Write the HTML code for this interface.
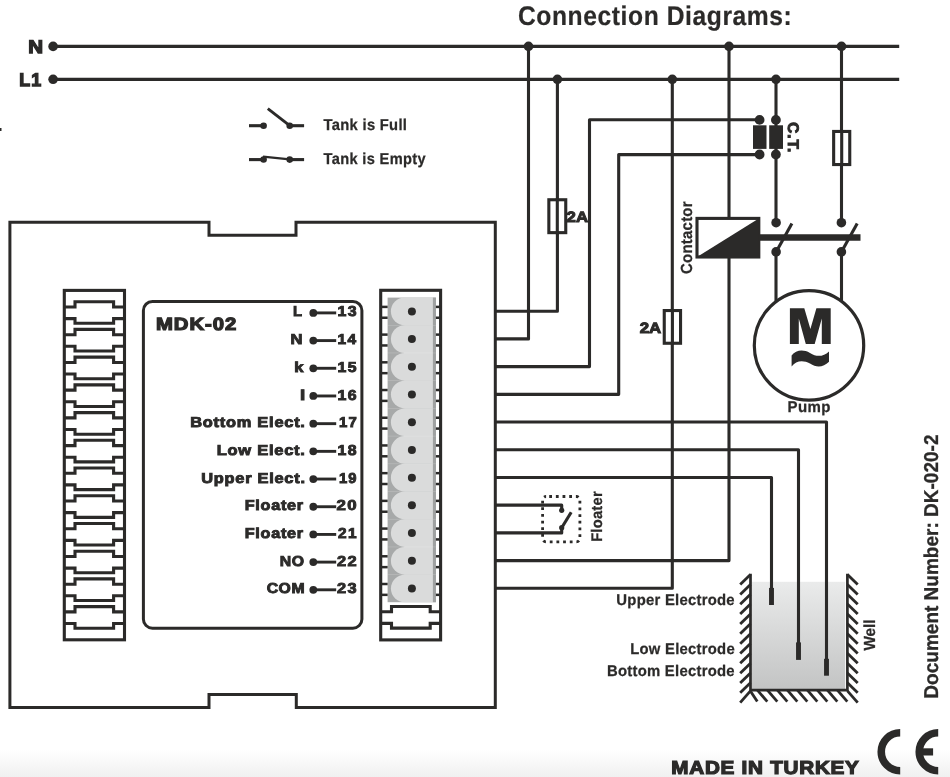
<!DOCTYPE html>
<html><head><meta charset="utf-8"><title>Connection Diagrams</title>
<style>
html,body{margin:0;padding:0;background:#fff;}
body{width:950px;height:777px;overflow:hidden;font-family:"Liberation Sans",sans-serif;}
svg{display:block;will-change:transform;}
svg text{font-family:"Liberation Sans",sans-serif;fill:#2b2a29;text-rendering:geometricPrecision;}
</style></head><body>
<svg width="950" height="777" viewBox="0 0 950 777">
<defs><linearGradient id="bg" x1="0" y1="0" x2="0" y2="1"><stop offset="0" stop-color="#ffffff"/><stop offset="1" stop-color="#f0f0f0"/></linearGradient></defs>
<rect x="0" y="0" width="950" height="777" fill="#fff"/>
<rect x="0" y="750" width="950" height="27" fill="url(#bg)"/>
<defs><linearGradient id="wg" x1="0" y1="0" x2="0" y2="1"><stop offset="0" stop-color="#eaebeb"/><stop offset="1" stop-color="#c3c4c4"/></linearGradient></defs>
<rect x="751.8" y="581.8" width="93.4" height="107.2" fill="url(#wg)"/>
<line x1="53" y1="46.4" x2="899.2" y2="46.4" stroke="#2b2a29" stroke-width="3.3" stroke-linecap="butt"/>
<line x1="53" y1="79.3" x2="899.2" y2="79.3" stroke="#2b2a29" stroke-width="3.3" stroke-linecap="butt"/>
<circle cx="53.1" cy="46.4" r="4.8" fill="#2b2a29"/>
<circle cx="53.1" cy="79.3" r="4.8" fill="#2b2a29"/>
<circle cx="528.5" cy="46.4" r="4.8" fill="#2b2a29"/>
<circle cx="729" cy="46.4" r="4.8" fill="#2b2a29"/>
<circle cx="841.5" cy="46.4" r="4.8" fill="#2b2a29"/>
<circle cx="557.4" cy="79.3" r="4.8" fill="#2b2a29"/>
<circle cx="672.3" cy="79.3" r="4.8" fill="#2b2a29"/>
<circle cx="776" cy="79.3" r="4.8" fill="#2b2a29"/>
<polyline points="495.3,311.2 557.4,311.2 557.4,79.3" fill="none" stroke="#2b2a29" stroke-width="3.1" stroke-linejoin="round" stroke-linecap="butt"/>
<polyline points="495.3,338.90999999999997 528.5,338.90999999999997 528.5,46.4" fill="none" stroke="#2b2a29" stroke-width="3.1" stroke-linejoin="round" stroke-linecap="butt"/>
<polyline points="495.3,366.62 589.5,366.62 589.5,119.8 759.6,119.8" fill="none" stroke="#2b2a29" stroke-width="3.1" stroke-linejoin="round" stroke-linecap="butt"/>
<polyline points="495.3,394.33 618.7,394.33 618.7,154.6 759.6,154.6" fill="none" stroke="#2b2a29" stroke-width="3.1" stroke-linejoin="round" stroke-linecap="butt"/>
<polyline points="495.3,422.03999999999996 826.5,422.03999999999996 826.5,660" fill="none" stroke="#2b2a29" stroke-width="3.1" stroke-linejoin="round" stroke-linecap="butt"/>
<polyline points="495.3,449.75 798.5,449.75 798.5,643" fill="none" stroke="#2b2a29" stroke-width="3.1" stroke-linejoin="round" stroke-linecap="butt"/>
<polyline points="495.3,477.46 771.5,477.46 771.5,589" fill="none" stroke="#2b2a29" stroke-width="3.1" stroke-linejoin="round" stroke-linecap="butt"/>
<polyline points="495.3,505.16999999999996 561.7,505.16999999999996 561.7,510.3" fill="none" stroke="#2b2a29" stroke-width="3.1" stroke-linejoin="round" stroke-linecap="butt"/>
<polyline points="495.3,532.88 561.7,532.88 561.7,527.7" fill="none" stroke="#2b2a29" stroke-width="3.1" stroke-linejoin="round" stroke-linecap="butt"/>
<polyline points="495.3,560.59 729,560.59 729,258" fill="none" stroke="#2b2a29" stroke-width="3.1" stroke-linejoin="round" stroke-linecap="butt"/>
<polyline points="495.3,588.3 672.3,588.3 672.3,79.3" fill="none" stroke="#2b2a29" stroke-width="3.1" stroke-linejoin="round" stroke-linecap="butt"/>
<line x1="729" y1="46.4" x2="729" y2="218" stroke="#2b2a29" stroke-width="3.1" stroke-linecap="butt"/>
<line x1="776" y1="79.3" x2="776" y2="222.7" stroke="#2b2a29" stroke-width="3.1" stroke-linecap="butt"/>
<line x1="841.5" y1="46.4" x2="841.5" y2="222.7" stroke="#2b2a29" stroke-width="3.1" stroke-linecap="butt"/>
<line x1="776" y1="251.9" x2="776" y2="304" stroke="#2b2a29" stroke-width="3.1" stroke-linecap="butt"/>
<line x1="841.5" y1="251.9" x2="841.5" y2="304" stroke="#2b2a29" stroke-width="3.1" stroke-linecap="butt"/>
<rect x="548.8499999999999" y="199.75" width="16.9" height="32.9" rx="0" fill="#fff" stroke="#2b2a29" stroke-width="3.1"/>
<line x1="557.3" y1="198.2" x2="557.3" y2="234.2" stroke="#2b2a29" stroke-width="3.1" stroke-linecap="butt"/>
<rect x="664.2499999999999" y="310.55" width="16.299999999999997" height="32.70000000000001" rx="0" fill="#fff" stroke="#2b2a29" stroke-width="3.1"/>
<line x1="672.4" y1="309.0" x2="672.4" y2="344.8" stroke="#2b2a29" stroke-width="3.1" stroke-linecap="butt"/>
<rect x="833.65" y="131.45000000000002" width="16.099999999999998" height="33.09999999999999" rx="0" fill="#fff" stroke="#2b2a29" stroke-width="3.1"/>
<line x1="841.7" y1="129.9" x2="841.7" y2="166.1" stroke="#2b2a29" stroke-width="3.1" stroke-linecap="butt"/>
<rect x="753" y="125.3" width="13.5" height="23.6" fill="#2b2a29"/>
<rect x="769.2" y="125.3" width="13.8" height="23.6" fill="#2b2a29"/>
<circle cx="759.6" cy="119.9" r="4.9" fill="#2b2a29"/>
<circle cx="759.6" cy="154.5" r="4.9" fill="#2b2a29"/>
<circle cx="775.9" cy="119.9" r="4.9" fill="#2b2a29"/>
<circle cx="775.9" cy="154.5" r="4.9" fill="#2b2a29"/>
<rect x="697.0" y="218.4" width="61.8" height="38.6" rx="0" fill="#fff" stroke="#2b2a29" stroke-width="3.1"/>
<polygon points="697.0,257.0 758.8,218.4 758.8,257.0" fill="#2b2a29"/>
<line x1="760" y1="237.5" x2="860.5" y2="237.5" stroke="#2b2a29" stroke-width="6.6" stroke-linecap="butt"/>
<circle cx="776.1" cy="222.7" r="4.8" fill="#2b2a29"/>
<circle cx="776.1" cy="251.9" r="4.8" fill="#2b2a29"/>
<line x1="776.1" y1="251.9" x2="791.9" y2="223.6" stroke="#2b2a29" stroke-width="3.1" stroke-linecap="butt"/>
<circle cx="841.4" cy="222.7" r="4.8" fill="#2b2a29"/>
<circle cx="841.4" cy="251.9" r="4.8" fill="#2b2a29"/>
<line x1="841.4" y1="251.9" x2="857.1999999999999" y2="223.6" stroke="#2b2a29" stroke-width="3.1" stroke-linecap="butt"/>
<circle cx="809" cy="345.4" r="54.7" fill="#fff" stroke="#2b2a29" stroke-width="3.2"/>
<path d="M789.9,344.0 L789.9,308.2 L804.3,308.2 L810.4,328.9 L816.4,308.2 L830.7,308.2 L830.7,344.0 L821.8,344.0 L821.8,318.6 L814.7,344.0 L805.8,344.0 L798.8,318.6 L798.8,344.0 Z" fill="#2b2a29"/>
<path d="M791.6,355.5 C796,350 803,349 810,353 C817,357.5 823.5,356.5 829.0,351.4 L829.0,361.7 C823.5,367.1 817,368.1 810,363.6 C803,359.6 796,360.6 791.6,366.6 Z" fill="#2b2a29"/>
<rect x="542.6" y="496.5" width="37.3" height="45.3" rx="3.5" fill="none" stroke="#2b2a29" stroke-width="2.8" stroke-dasharray="2.8 3.87" stroke-dashoffset="-3.1"/>
<circle cx="561.7" cy="510.3" r="2.6" fill="#2b2a29"/>
<circle cx="561.7" cy="527.7" r="2.6" fill="#2b2a29"/>
<line x1="561.7" y1="527.7" x2="571.2" y2="512.2" stroke="#2b2a29" stroke-width="3.1" stroke-linecap="butt"/>
<polyline points="750.5,573.8 750.5,690.2 847.4,690.2 847.4,573.8" fill="none" stroke="#2b2a29" stroke-width="2.7" stroke-linejoin="miter" stroke-linecap="butt"/>
<line x1="750.5" y1="574.6" x2="740.2" y2="584.6" stroke="#2b2a29" stroke-width="2.8" stroke-linecap="butt"/>
<line x1="847.4" y1="574.6" x2="857.6999999999999" y2="584.6" stroke="#2b2a29" stroke-width="2.8" stroke-linecap="butt"/>
<line x1="750.5" y1="584.44" x2="740.2" y2="594.44" stroke="#2b2a29" stroke-width="2.8" stroke-linecap="butt"/>
<line x1="847.4" y1="584.44" x2="857.6999999999999" y2="594.44" stroke="#2b2a29" stroke-width="2.8" stroke-linecap="butt"/>
<line x1="750.5" y1="594.28" x2="740.2" y2="604.28" stroke="#2b2a29" stroke-width="2.8" stroke-linecap="butt"/>
<line x1="847.4" y1="594.28" x2="857.6999999999999" y2="604.28" stroke="#2b2a29" stroke-width="2.8" stroke-linecap="butt"/>
<line x1="750.5" y1="604.12" x2="740.2" y2="614.12" stroke="#2b2a29" stroke-width="2.8" stroke-linecap="butt"/>
<line x1="847.4" y1="604.12" x2="857.6999999999999" y2="614.12" stroke="#2b2a29" stroke-width="2.8" stroke-linecap="butt"/>
<line x1="750.5" y1="613.96" x2="740.2" y2="623.96" stroke="#2b2a29" stroke-width="2.8" stroke-linecap="butt"/>
<line x1="847.4" y1="613.96" x2="857.6999999999999" y2="623.96" stroke="#2b2a29" stroke-width="2.8" stroke-linecap="butt"/>
<line x1="750.5" y1="623.8000000000001" x2="740.2" y2="633.8000000000001" stroke="#2b2a29" stroke-width="2.8" stroke-linecap="butt"/>
<line x1="847.4" y1="623.8000000000001" x2="857.6999999999999" y2="633.8000000000001" stroke="#2b2a29" stroke-width="2.8" stroke-linecap="butt"/>
<line x1="750.5" y1="633.64" x2="740.2" y2="643.64" stroke="#2b2a29" stroke-width="2.8" stroke-linecap="butt"/>
<line x1="847.4" y1="633.64" x2="857.6999999999999" y2="643.64" stroke="#2b2a29" stroke-width="2.8" stroke-linecap="butt"/>
<line x1="750.5" y1="643.48" x2="740.2" y2="653.48" stroke="#2b2a29" stroke-width="2.8" stroke-linecap="butt"/>
<line x1="847.4" y1="643.48" x2="857.6999999999999" y2="653.48" stroke="#2b2a29" stroke-width="2.8" stroke-linecap="butt"/>
<line x1="750.5" y1="653.32" x2="740.2" y2="663.32" stroke="#2b2a29" stroke-width="2.8" stroke-linecap="butt"/>
<line x1="847.4" y1="653.32" x2="857.6999999999999" y2="663.32" stroke="#2b2a29" stroke-width="2.8" stroke-linecap="butt"/>
<line x1="750.5" y1="663.1600000000001" x2="740.2" y2="673.1600000000001" stroke="#2b2a29" stroke-width="2.8" stroke-linecap="butt"/>
<line x1="847.4" y1="663.1600000000001" x2="857.6999999999999" y2="673.1600000000001" stroke="#2b2a29" stroke-width="2.8" stroke-linecap="butt"/>
<line x1="750.5" y1="673.0" x2="740.2" y2="683.0" stroke="#2b2a29" stroke-width="2.8" stroke-linecap="butt"/>
<line x1="847.4" y1="673.0" x2="857.6999999999999" y2="683.0" stroke="#2b2a29" stroke-width="2.8" stroke-linecap="butt"/>
<line x1="750.5" y1="682.84" x2="740.2" y2="692.84" stroke="#2b2a29" stroke-width="2.8" stroke-linecap="butt"/>
<line x1="847.4" y1="682.84" x2="857.6999999999999" y2="692.84" stroke="#2b2a29" stroke-width="2.8" stroke-linecap="butt"/>
<line x1="750.5" y1="690.8000000000001" x2="740.2" y2="702.6800000000001" stroke="#2b2a29" stroke-width="2.8" stroke-linecap="butt"/>
<line x1="847.4" y1="690.8000000000001" x2="857.6999999999999" y2="702.6800000000001" stroke="#2b2a29" stroke-width="2.8" stroke-linecap="butt"/>
<line x1="750.7" y1="691.4000000000001" x2="757.3" y2="701.6" stroke="#2b2a29" stroke-width="2.8" stroke-linecap="butt"/>
<line x1="757.4" y1="690.2" x2="767.3" y2="701.6" stroke="#2b2a29" stroke-width="2.8" stroke-linecap="butt"/>
<line x1="767.4" y1="690.2" x2="777.3" y2="701.6" stroke="#2b2a29" stroke-width="2.8" stroke-linecap="butt"/>
<line x1="777.4" y1="690.2" x2="787.3" y2="701.6" stroke="#2b2a29" stroke-width="2.8" stroke-linecap="butt"/>
<line x1="787.4" y1="690.2" x2="797.3" y2="701.6" stroke="#2b2a29" stroke-width="2.8" stroke-linecap="butt"/>
<line x1="797.4" y1="690.2" x2="807.3" y2="701.6" stroke="#2b2a29" stroke-width="2.8" stroke-linecap="butt"/>
<line x1="807.4" y1="690.2" x2="817.3" y2="701.6" stroke="#2b2a29" stroke-width="2.8" stroke-linecap="butt"/>
<line x1="817.4" y1="690.2" x2="827.3" y2="701.6" stroke="#2b2a29" stroke-width="2.8" stroke-linecap="butt"/>
<line x1="827.4" y1="690.2" x2="837.3" y2="701.6" stroke="#2b2a29" stroke-width="2.8" stroke-linecap="butt"/>
<line x1="837.4" y1="690.2" x2="847.3" y2="701.6" stroke="#2b2a29" stroke-width="2.8" stroke-linecap="butt"/>
<line x1="771.5" y1="587.9" x2="771.5" y2="605.0" stroke="#2b2a29" stroke-width="4.9" stroke-linecap="butt"/>
<line x1="798.5" y1="642.4" x2="798.5" y2="659.9" stroke="#2b2a29" stroke-width="4.9" stroke-linecap="butt"/>
<line x1="826.5" y1="658.8" x2="826.5" y2="675.7" stroke="#2b2a29" stroke-width="4.9" stroke-linecap="butt"/>
<line x1="249" y1="125.7" x2="263.6" y2="125.7" stroke="#2b2a29" stroke-width="3.1" stroke-linecap="butt"/>
<circle cx="263.6" cy="125.7" r="3.3" fill="#2b2a29"/>
<line x1="289.7" y1="125.7" x2="304.1" y2="125.7" stroke="#2b2a29" stroke-width="3.1" stroke-linecap="butt"/>
<circle cx="289.7" cy="125.7" r="3.3" fill="#2b2a29"/>
<line x1="289.7" y1="125.7" x2="267.8" y2="108.7" stroke="#2b2a29" stroke-width="2.9" stroke-linecap="butt"/>
<line x1="249" y1="159.6" x2="263.6" y2="159.6" stroke="#2b2a29" stroke-width="3.1" stroke-linecap="butt"/>
<circle cx="263.6" cy="159.5" r="3.3" fill="#2b2a29"/>
<line x1="289.7" y1="159.6" x2="304.1" y2="159.6" stroke="#2b2a29" stroke-width="3.1" stroke-linecap="butt"/>
<circle cx="289.7" cy="159.6" r="3.3" fill="#2b2a29"/>
<line x1="263.0" y1="156.7" x2="289.7" y2="159.4" stroke="#2b2a29" stroke-width="2.2" stroke-linecap="butt"/>
<polyline points="9.9,222.3 209,222.3 209,235.3 296,235.3 296,222.3 495.3,222.3 495.3,707.6 296.3,707.6 296.3,694.4 209,694.4 209,707.6 9.9,707.6 9.9,222.3 20,222.3" fill="none" stroke="#2b2a29" stroke-width="3.0" stroke-linejoin="miter" stroke-linecap="butt"/>
<rect x="143.4" y="301.5" width="218.5" height="326.7" rx="9" fill="none" stroke="#2b2a29" stroke-width="3.0"/>
<rect x="64.3" y="290.4" width="60.2" height="349.4" rx="0" fill="none" stroke="#2b2a29" stroke-width="3.1"/>
<polyline points="64.3,307.0 75.0,307.0 75.0,301.7 113.6,301.7 113.6,307.0 124.5,307.0" fill="none" stroke="#2b2a29" stroke-width="3.1" stroke-linejoin="miter" stroke-linecap="butt"/>
<polyline points="64.3,318.59999999999997 75.0,318.59999999999997 75.0,323.3 113.6,323.3 113.6,318.59999999999997 124.5,318.59999999999997" fill="none" stroke="#2b2a29" stroke-width="3.1" stroke-linejoin="miter" stroke-linecap="butt"/>
<polyline points="64.3,334.71999999999997 75.0,334.71999999999997 75.0,329.41999999999996 113.6,329.41999999999996 113.6,334.71999999999997 124.5,334.71999999999997" fill="none" stroke="#2b2a29" stroke-width="3.1" stroke-linejoin="miter" stroke-linecap="butt"/>
<polyline points="64.3,346.31999999999994 75.0,346.31999999999994 75.0,351.02 113.6,351.02 113.6,346.31999999999994 124.5,346.31999999999994" fill="none" stroke="#2b2a29" stroke-width="3.1" stroke-linejoin="miter" stroke-linecap="butt"/>
<polyline points="64.3,362.44 75.0,362.44 75.0,357.14 113.6,357.14 113.6,362.44 124.5,362.44" fill="none" stroke="#2b2a29" stroke-width="3.1" stroke-linejoin="miter" stroke-linecap="butt"/>
<polyline points="64.3,374.03999999999996 75.0,374.03999999999996 75.0,378.74 113.6,378.74 113.6,374.03999999999996 124.5,374.03999999999996" fill="none" stroke="#2b2a29" stroke-width="3.1" stroke-linejoin="miter" stroke-linecap="butt"/>
<polyline points="64.3,390.16 75.0,390.16 75.0,384.86 113.6,384.86 113.6,390.16 124.5,390.16" fill="none" stroke="#2b2a29" stroke-width="3.1" stroke-linejoin="miter" stroke-linecap="butt"/>
<polyline points="64.3,401.76 75.0,401.76 75.0,406.46000000000004 113.6,406.46000000000004 113.6,401.76 124.5,401.76" fill="none" stroke="#2b2a29" stroke-width="3.1" stroke-linejoin="miter" stroke-linecap="butt"/>
<polyline points="64.3,417.88 75.0,417.88 75.0,412.58 113.6,412.58 113.6,417.88 124.5,417.88" fill="none" stroke="#2b2a29" stroke-width="3.1" stroke-linejoin="miter" stroke-linecap="butt"/>
<polyline points="64.3,429.47999999999996 75.0,429.47999999999996 75.0,434.18 113.6,434.18 113.6,429.47999999999996 124.5,429.47999999999996" fill="none" stroke="#2b2a29" stroke-width="3.1" stroke-linejoin="miter" stroke-linecap="butt"/>
<polyline points="64.3,445.59999999999997 75.0,445.59999999999997 75.0,440.29999999999995 113.6,440.29999999999995 113.6,445.59999999999997 124.5,445.59999999999997" fill="none" stroke="#2b2a29" stroke-width="3.1" stroke-linejoin="miter" stroke-linecap="butt"/>
<polyline points="64.3,457.19999999999993 75.0,457.19999999999993 75.0,461.9 113.6,461.9 113.6,457.19999999999993 124.5,457.19999999999993" fill="none" stroke="#2b2a29" stroke-width="3.1" stroke-linejoin="miter" stroke-linecap="butt"/>
<polyline points="64.3,473.32 75.0,473.32 75.0,468.02 113.6,468.02 113.6,473.32 124.5,473.32" fill="none" stroke="#2b2a29" stroke-width="3.1" stroke-linejoin="miter" stroke-linecap="butt"/>
<polyline points="64.3,484.91999999999996 75.0,484.91999999999996 75.0,489.62 113.6,489.62 113.6,484.91999999999996 124.5,484.91999999999996" fill="none" stroke="#2b2a29" stroke-width="3.1" stroke-linejoin="miter" stroke-linecap="butt"/>
<polyline points="64.3,501.04 75.0,501.04 75.0,495.74 113.6,495.74 113.6,501.04 124.5,501.04" fill="none" stroke="#2b2a29" stroke-width="3.1" stroke-linejoin="miter" stroke-linecap="butt"/>
<polyline points="64.3,512.64 75.0,512.64 75.0,517.34 113.6,517.34 113.6,512.64 124.5,512.64" fill="none" stroke="#2b2a29" stroke-width="3.1" stroke-linejoin="miter" stroke-linecap="butt"/>
<polyline points="64.3,528.76 75.0,528.76 75.0,523.46 113.6,523.46 113.6,528.76 124.5,528.76" fill="none" stroke="#2b2a29" stroke-width="3.1" stroke-linejoin="miter" stroke-linecap="butt"/>
<polyline points="64.3,540.36 75.0,540.36 75.0,545.0600000000001 113.6,545.0600000000001 113.6,540.36 124.5,540.36" fill="none" stroke="#2b2a29" stroke-width="3.1" stroke-linejoin="miter" stroke-linecap="butt"/>
<polyline points="64.3,556.4799999999999 75.0,556.4799999999999 75.0,551.18 113.6,551.18 113.6,556.4799999999999 124.5,556.4799999999999" fill="none" stroke="#2b2a29" stroke-width="3.1" stroke-linejoin="miter" stroke-linecap="butt"/>
<polyline points="64.3,568.0799999999999 75.0,568.0799999999999 75.0,572.78 113.6,572.78 113.6,568.0799999999999 124.5,568.0799999999999" fill="none" stroke="#2b2a29" stroke-width="3.1" stroke-linejoin="miter" stroke-linecap="butt"/>
<polyline points="64.3,584.1999999999999 75.0,584.1999999999999 75.0,578.9 113.6,578.9 113.6,584.1999999999999 124.5,584.1999999999999" fill="none" stroke="#2b2a29" stroke-width="3.1" stroke-linejoin="miter" stroke-linecap="butt"/>
<polyline points="64.3,595.8 75.0,595.8 75.0,600.5 113.6,600.5 113.6,595.8 124.5,595.8" fill="none" stroke="#2b2a29" stroke-width="3.1" stroke-linejoin="miter" stroke-linecap="butt"/>
<polyline points="64.3,611.9199999999998 75.0,611.9199999999998 75.0,606.6199999999999 113.6,606.6199999999999 113.6,611.9199999999998 124.5,611.9199999999998" fill="none" stroke="#2b2a29" stroke-width="3.1" stroke-linejoin="miter" stroke-linecap="butt"/>
<polyline points="64.3,623.5199999999999 75.0,623.5199999999999 75.0,628.2199999999999 113.6,628.2199999999999 113.6,623.5199999999999 124.5,623.5199999999999" fill="none" stroke="#2b2a29" stroke-width="3.1" stroke-linejoin="miter" stroke-linecap="butt"/>
<rect x="380.7" y="290.3" width="59.9" height="349.6" rx="0" fill="none" stroke="#2b2a29" stroke-width="3.1"/>
<rect x="387.6" y="297.6" width="48.3" height="304.6" fill="#a7a9a9"/>
<rect x="432.9" y="297.6" width="3.0" height="304.6" fill="#9fa1a1"/>
<path d="M432.9,297.55 L404.8,297.55 A13.9,13.85 0 0 0 404.8,325.25 L432.9,325.25 Z" fill="#dadbdb"/>
<circle cx="411.9" cy="311.4" r="4.0" fill="#2b2a29"/>
<line x1="380.7" y1="306.9" x2="387.6" y2="306.9" stroke="#2b2a29" stroke-width="2.5" stroke-linecap="butt"/>
<line x1="435.9" y1="306.9" x2="440.6" y2="306.9" stroke="#2b2a29" stroke-width="2.5" stroke-linecap="butt"/>
<line x1="380.7" y1="317.75" x2="387.6" y2="317.75" stroke="#2b2a29" stroke-width="2.5" stroke-linecap="butt"/>
<line x1="435.9" y1="317.75" x2="440.6" y2="317.75" stroke="#2b2a29" stroke-width="2.5" stroke-linecap="butt"/>
<path d="M432.9,325.26 L404.8,325.26 A13.9,13.85 0 0 0 404.8,352.96 L432.9,352.96 Z" fill="#dadbdb"/>
<rect x="387.6" y="324.96" width="48.3" height="0.6" fill="#ffffff" fill-opacity="0.25"/>
<circle cx="411.9" cy="339.10999999999996" r="4.0" fill="#2b2a29"/>
<line x1="380.7" y1="334.60999999999996" x2="387.6" y2="334.60999999999996" stroke="#2b2a29" stroke-width="2.5" stroke-linecap="butt"/>
<line x1="435.9" y1="334.60999999999996" x2="440.6" y2="334.60999999999996" stroke="#2b2a29" stroke-width="2.5" stroke-linecap="butt"/>
<line x1="380.7" y1="345.46" x2="387.6" y2="345.46" stroke="#2b2a29" stroke-width="2.5" stroke-linecap="butt"/>
<line x1="435.9" y1="345.46" x2="440.6" y2="345.46" stroke="#2b2a29" stroke-width="2.5" stroke-linecap="butt"/>
<path d="M432.9,352.97 L404.8,352.97 A13.9,13.85 0 0 0 404.8,380.67 L432.9,380.67 Z" fill="#dadbdb"/>
<rect x="387.6" y="352.67" width="48.3" height="0.6" fill="#ffffff" fill-opacity="0.25"/>
<circle cx="411.9" cy="366.82" r="4.0" fill="#2b2a29"/>
<line x1="380.7" y1="362.32" x2="387.6" y2="362.32" stroke="#2b2a29" stroke-width="2.5" stroke-linecap="butt"/>
<line x1="435.9" y1="362.32" x2="440.6" y2="362.32" stroke="#2b2a29" stroke-width="2.5" stroke-linecap="butt"/>
<line x1="380.7" y1="373.17" x2="387.6" y2="373.17" stroke="#2b2a29" stroke-width="2.5" stroke-linecap="butt"/>
<line x1="435.9" y1="373.17" x2="440.6" y2="373.17" stroke="#2b2a29" stroke-width="2.5" stroke-linecap="butt"/>
<path d="M432.9,380.68 L404.8,380.68 A13.9,13.85 0 0 0 404.8,408.38 L432.9,408.38 Z" fill="#dadbdb"/>
<rect x="387.6" y="380.38" width="48.3" height="0.6" fill="#ffffff" fill-opacity="0.25"/>
<circle cx="411.9" cy="394.53" r="4.0" fill="#2b2a29"/>
<line x1="380.7" y1="390.03" x2="387.6" y2="390.03" stroke="#2b2a29" stroke-width="2.5" stroke-linecap="butt"/>
<line x1="435.9" y1="390.03" x2="440.6" y2="390.03" stroke="#2b2a29" stroke-width="2.5" stroke-linecap="butt"/>
<line x1="380.7" y1="400.88" x2="387.6" y2="400.88" stroke="#2b2a29" stroke-width="2.5" stroke-linecap="butt"/>
<line x1="435.9" y1="400.88" x2="440.6" y2="400.88" stroke="#2b2a29" stroke-width="2.5" stroke-linecap="butt"/>
<path d="M432.9,408.39 L404.8,408.39 A13.9,13.85 0 0 0 404.8,436.09 L432.9,436.09 Z" fill="#dadbdb"/>
<rect x="387.6" y="408.09" width="48.3" height="0.6" fill="#ffffff" fill-opacity="0.25"/>
<circle cx="411.9" cy="422.24" r="4.0" fill="#2b2a29"/>
<line x1="380.7" y1="417.74" x2="387.6" y2="417.74" stroke="#2b2a29" stroke-width="2.5" stroke-linecap="butt"/>
<line x1="435.9" y1="417.74" x2="440.6" y2="417.74" stroke="#2b2a29" stroke-width="2.5" stroke-linecap="butt"/>
<line x1="380.7" y1="428.59000000000003" x2="387.6" y2="428.59000000000003" stroke="#2b2a29" stroke-width="2.5" stroke-linecap="butt"/>
<line x1="435.9" y1="428.59000000000003" x2="440.6" y2="428.59000000000003" stroke="#2b2a29" stroke-width="2.5" stroke-linecap="butt"/>
<path d="M432.9,436.10 L404.8,436.10 A13.9,13.85 0 0 0 404.8,463.80 L432.9,463.80 Z" fill="#dadbdb"/>
<rect x="387.6" y="435.80" width="48.3" height="0.6" fill="#ffffff" fill-opacity="0.25"/>
<circle cx="411.9" cy="449.95" r="4.0" fill="#2b2a29"/>
<line x1="380.7" y1="445.45" x2="387.6" y2="445.45" stroke="#2b2a29" stroke-width="2.5" stroke-linecap="butt"/>
<line x1="435.9" y1="445.45" x2="440.6" y2="445.45" stroke="#2b2a29" stroke-width="2.5" stroke-linecap="butt"/>
<line x1="380.7" y1="456.3" x2="387.6" y2="456.3" stroke="#2b2a29" stroke-width="2.5" stroke-linecap="butt"/>
<line x1="435.9" y1="456.3" x2="440.6" y2="456.3" stroke="#2b2a29" stroke-width="2.5" stroke-linecap="butt"/>
<path d="M432.9,463.81 L404.8,463.81 A13.9,13.85 0 0 0 404.8,491.51 L432.9,491.51 Z" fill="#dadbdb"/>
<rect x="387.6" y="463.51" width="48.3" height="0.6" fill="#ffffff" fill-opacity="0.25"/>
<circle cx="411.9" cy="477.65999999999997" r="4.0" fill="#2b2a29"/>
<line x1="380.7" y1="473.15999999999997" x2="387.6" y2="473.15999999999997" stroke="#2b2a29" stroke-width="2.5" stroke-linecap="butt"/>
<line x1="435.9" y1="473.15999999999997" x2="440.6" y2="473.15999999999997" stroke="#2b2a29" stroke-width="2.5" stroke-linecap="butt"/>
<line x1="380.7" y1="484.01" x2="387.6" y2="484.01" stroke="#2b2a29" stroke-width="2.5" stroke-linecap="butt"/>
<line x1="435.9" y1="484.01" x2="440.6" y2="484.01" stroke="#2b2a29" stroke-width="2.5" stroke-linecap="butt"/>
<path d="M432.9,491.52 L404.8,491.52 A13.9,13.85 0 0 0 404.8,519.22 L432.9,519.22 Z" fill="#dadbdb"/>
<rect x="387.6" y="491.22" width="48.3" height="0.6" fill="#ffffff" fill-opacity="0.25"/>
<circle cx="411.9" cy="505.37" r="4.0" fill="#2b2a29"/>
<line x1="380.7" y1="500.87" x2="387.6" y2="500.87" stroke="#2b2a29" stroke-width="2.5" stroke-linecap="butt"/>
<line x1="435.9" y1="500.87" x2="440.6" y2="500.87" stroke="#2b2a29" stroke-width="2.5" stroke-linecap="butt"/>
<line x1="380.7" y1="511.72" x2="387.6" y2="511.72" stroke="#2b2a29" stroke-width="2.5" stroke-linecap="butt"/>
<line x1="435.9" y1="511.72" x2="440.6" y2="511.72" stroke="#2b2a29" stroke-width="2.5" stroke-linecap="butt"/>
<path d="M432.9,519.23 L404.8,519.23 A13.9,13.85 0 0 0 404.8,546.93 L432.9,546.93 Z" fill="#dadbdb"/>
<rect x="387.6" y="518.93" width="48.3" height="0.6" fill="#ffffff" fill-opacity="0.25"/>
<circle cx="411.9" cy="533.0799999999999" r="4.0" fill="#2b2a29"/>
<line x1="380.7" y1="528.5799999999999" x2="387.6" y2="528.5799999999999" stroke="#2b2a29" stroke-width="2.5" stroke-linecap="butt"/>
<line x1="435.9" y1="528.5799999999999" x2="440.6" y2="528.5799999999999" stroke="#2b2a29" stroke-width="2.5" stroke-linecap="butt"/>
<line x1="380.7" y1="539.43" x2="387.6" y2="539.43" stroke="#2b2a29" stroke-width="2.5" stroke-linecap="butt"/>
<line x1="435.9" y1="539.43" x2="440.6" y2="539.43" stroke="#2b2a29" stroke-width="2.5" stroke-linecap="butt"/>
<path d="M432.9,546.94 L404.8,546.94 A13.9,13.85 0 0 0 404.8,574.64 L432.9,574.64 Z" fill="#dadbdb"/>
<rect x="387.6" y="546.64" width="48.3" height="0.6" fill="#ffffff" fill-opacity="0.25"/>
<circle cx="411.9" cy="560.79" r="4.0" fill="#2b2a29"/>
<line x1="380.7" y1="556.29" x2="387.6" y2="556.29" stroke="#2b2a29" stroke-width="2.5" stroke-linecap="butt"/>
<line x1="435.9" y1="556.29" x2="440.6" y2="556.29" stroke="#2b2a29" stroke-width="2.5" stroke-linecap="butt"/>
<line x1="380.7" y1="567.14" x2="387.6" y2="567.14" stroke="#2b2a29" stroke-width="2.5" stroke-linecap="butt"/>
<line x1="435.9" y1="567.14" x2="440.6" y2="567.14" stroke="#2b2a29" stroke-width="2.5" stroke-linecap="butt"/>
<path d="M432.9,574.65 L404.8,574.65 A13.9,13.85 0 0 0 404.8,602.35 L432.9,602.35 Z" fill="#dadbdb"/>
<rect x="387.6" y="574.35" width="48.3" height="0.6" fill="#ffffff" fill-opacity="0.25"/>
<circle cx="411.9" cy="588.5" r="4.0" fill="#2b2a29"/>
<line x1="380.7" y1="584.0" x2="387.6" y2="584.0" stroke="#2b2a29" stroke-width="2.5" stroke-linecap="butt"/>
<line x1="435.9" y1="584.0" x2="440.6" y2="584.0" stroke="#2b2a29" stroke-width="2.5" stroke-linecap="butt"/>
<line x1="380.7" y1="594.85" x2="387.6" y2="594.85" stroke="#2b2a29" stroke-width="2.5" stroke-linecap="butt"/>
<line x1="435.9" y1="594.85" x2="440.6" y2="594.85" stroke="#2b2a29" stroke-width="2.5" stroke-linecap="butt"/>
<polyline points="380.7,611.8 391.5,611.8 391.5,606.5 430.2,606.5 430.2,611.8 440.6,611.8" fill="none" stroke="#2b2a29" stroke-width="3.1" stroke-linejoin="miter" stroke-linecap="butt"/>
<polyline points="380.7,623.4 391.5,623.4 391.5,628.1 430.2,628.1 430.2,623.4 440.6,623.4" fill="none" stroke="#2b2a29" stroke-width="3.1" stroke-linejoin="miter" stroke-linecap="butt"/>
<circle cx="313.3" cy="312.9" r="3.9" fill="#2b2a29"/>
<line x1="313.3" y1="312.9" x2="336.2" y2="312.9" stroke="#2b2a29" stroke-width="2.9" stroke-linecap="butt"/>
<text transform="translate(338.10,316.00) rotate(0) scale(1.1057,1)" x="-0.457" y="0" font-size="14.39" font-weight="bold" letter-spacing="1.165" stroke="#2b2a29" stroke-width="0.9" stroke-linejoin="miter" paint-order="stroke">13</text>
<text transform="translate(293.40,316.00) rotate(0) scale(1.0263,1)" x="-0.514" y="0" font-size="14.39" font-weight="bold" stroke="#2b2a29" stroke-width="0.9" stroke-linejoin="miter" paint-order="stroke">L</text>
<circle cx="313.3" cy="340.59" r="3.9" fill="#2b2a29"/>
<line x1="313.3" y1="340.59" x2="336.2" y2="340.59" stroke="#2b2a29" stroke-width="2.9" stroke-linecap="butt"/>
<text transform="translate(338.10,344.00) rotate(0) scale(1.0747,1)" x="-0.457" y="0" font-size="14.39" font-weight="bold" letter-spacing="1.198" stroke="#2b2a29" stroke-width="0.9" stroke-linejoin="miter" paint-order="stroke">14</text>
<text transform="translate(291.10,344.00) rotate(0) scale(1.1537,1)" x="-0.514" y="0" font-size="14.39" font-weight="bold" stroke="#2b2a29" stroke-width="0.9" stroke-linejoin="miter" paint-order="stroke">N</text>
<circle cx="313.3" cy="368.28" r="3.9" fill="#2b2a29"/>
<line x1="313.3" y1="368.28" x2="336.2" y2="368.28" stroke="#2b2a29" stroke-width="2.9" stroke-linecap="butt"/>
<text transform="translate(338.10,372.00) rotate(0) scale(1.0975,1)" x="-0.457" y="0" font-size="14.39" font-weight="bold" letter-spacing="1.174" stroke="#2b2a29" stroke-width="0.9" stroke-linejoin="miter" paint-order="stroke">15</text>
<text transform="translate(294.90,372.00) rotate(0) scale(1.1508,1)" x="-0.557" y="0" font-size="14.39" font-weight="bold" stroke="#2b2a29" stroke-width="0.9" stroke-linejoin="miter" paint-order="stroke">k</text>
<circle cx="313.3" cy="395.96999999999997" r="3.9" fill="#2b2a29"/>
<line x1="313.3" y1="395.96999999999997" x2="336.2" y2="395.96999999999997" stroke="#2b2a29" stroke-width="2.9" stroke-linecap="butt"/>
<text transform="translate(338.10,400.00) rotate(0) scale(1.1057,1)" x="-0.457" y="0" font-size="14.39" font-weight="bold" letter-spacing="1.165" stroke="#2b2a29" stroke-width="0.9" stroke-linejoin="miter" paint-order="stroke">16</text>
<text transform="translate(300.60,400.00) rotate(0) scale(1.3234,1)" x="-0.557" y="0" font-size="14.39" font-weight="bold" stroke="#2b2a29" stroke-width="0.9" stroke-linejoin="miter" paint-order="stroke">l</text>
<circle cx="313.3" cy="423.65999999999997" r="3.9" fill="#2b2a29"/>
<line x1="313.3" y1="423.65999999999997" x2="336.2" y2="423.65999999999997" stroke="#2b2a29" stroke-width="2.9" stroke-linecap="butt"/>
<text transform="translate(339.40,427.00) rotate(0) scale(1.0353,1)" x="-0.457" y="0" font-size="14.39" font-weight="bold" letter-spacing="1.156" stroke="#2b2a29" stroke-width="0.9" stroke-linejoin="miter" paint-order="stroke">17</text>
<text transform="translate(190.70,427.00) rotate(0) scale(1.1409,1)" x="-0.514" y="0" font-size="14.39" font-weight="bold" letter-spacing="0.664" stroke="#2b2a29" stroke-width="0.9" stroke-linejoin="miter" paint-order="stroke">Bottom Elect.</text>
<circle cx="313.3" cy="451.35" r="3.9" fill="#2b2a29"/>
<line x1="313.3" y1="451.35" x2="336.2" y2="451.35" stroke="#2b2a29" stroke-width="2.9" stroke-linecap="butt"/>
<text transform="translate(338.10,455.00) rotate(0) scale(1.1006,1)" x="-0.457" y="0" font-size="14.39" font-weight="bold" letter-spacing="1.170" stroke="#2b2a29" stroke-width="0.9" stroke-linejoin="miter" paint-order="stroke">18</text>
<text transform="translate(217.20,455.00) rotate(0) scale(1.1442,1)" x="-0.514" y="0" font-size="14.39" font-weight="bold" letter-spacing="0.677" stroke="#2b2a29" stroke-width="0.9" stroke-linejoin="miter" paint-order="stroke">Low Elect.</text>
<circle cx="313.3" cy="479.03999999999996" r="3.9" fill="#2b2a29"/>
<line x1="313.3" y1="479.03999999999996" x2="336.2" y2="479.03999999999996" stroke="#2b2a29" stroke-width="2.9" stroke-linecap="butt"/>
<text transform="translate(339.40,483.00) rotate(0) scale(1.0285,1)" x="-0.457" y="0" font-size="14.39" font-weight="bold" letter-spacing="1.164" stroke="#2b2a29" stroke-width="0.9" stroke-linejoin="miter" paint-order="stroke">19</text>
<text transform="translate(201.70,483.00) rotate(0) scale(1.1383,1)" x="-0.413" y="0" font-size="14.39" font-weight="bold" letter-spacing="0.656" stroke="#2b2a29" stroke-width="0.9" stroke-linejoin="miter" paint-order="stroke">Upper Elect.</text>
<circle cx="313.3" cy="506.73" r="3.9" fill="#2b2a29"/>
<line x1="313.3" y1="506.73" x2="336.2" y2="506.73" stroke="#2b2a29" stroke-width="2.9" stroke-linecap="butt"/>
<text transform="translate(336.60,510.00) rotate(0) scale(1.1708,1)" x="-0.054" y="0" font-size="14.39" font-weight="bold" letter-spacing="1.190" stroke="#2b2a29" stroke-width="0.9" stroke-linejoin="miter" paint-order="stroke">20</text>
<text transform="translate(245.20,510.00) rotate(0) scale(1.1226,1)" x="-0.514" y="0" font-size="14.39" font-weight="bold" letter-spacing="0.691" stroke="#2b2a29" stroke-width="0.9" stroke-linejoin="miter" paint-order="stroke">Floater</text>
<circle cx="313.3" cy="534.42" r="3.9" fill="#2b2a29"/>
<line x1="313.3" y1="534.42" x2="336.2" y2="534.42" stroke="#2b2a29" stroke-width="2.9" stroke-linecap="butt"/>
<text transform="translate(338.10,538.00) rotate(0) scale(1.0699,1)" x="-0.054" y="0" font-size="14.39" font-weight="bold" letter-spacing="1.204" stroke="#2b2a29" stroke-width="0.9" stroke-linejoin="miter" paint-order="stroke">21</text>
<text transform="translate(245.20,538.00) rotate(0) scale(1.1226,1)" x="-0.514" y="0" font-size="14.39" font-weight="bold" letter-spacing="0.691" stroke="#2b2a29" stroke-width="0.9" stroke-linejoin="miter" paint-order="stroke">Floater</text>
<circle cx="313.3" cy="562.11" r="3.9" fill="#2b2a29"/>
<line x1="313.3" y1="562.11" x2="336.2" y2="562.11" stroke="#2b2a29" stroke-width="2.9" stroke-linecap="butt"/>
<text transform="translate(337.10,566.00) rotate(0) scale(1.1403,1)" x="-0.054" y="0" font-size="14.39" font-weight="bold" letter-spacing="1.191" stroke="#2b2a29" stroke-width="0.9" stroke-linejoin="miter" paint-order="stroke">22</text>
<text transform="translate(280.30,566.00) rotate(0) scale(1.0991,1)" x="-0.514" y="0" font-size="14.39" font-weight="bold" letter-spacing="0.647" stroke="#2b2a29" stroke-width="0.9" stroke-linejoin="miter" paint-order="stroke">NO</text>
<circle cx="313.3" cy="589.8" r="3.9" fill="#2b2a29"/>
<line x1="313.3" y1="589.8" x2="336.2" y2="589.8" stroke="#2b2a29" stroke-width="2.9" stroke-linecap="butt"/>
<text transform="translate(337.10,593.00) rotate(0) scale(1.1362,1)" x="-0.054" y="0" font-size="14.39" font-weight="bold" letter-spacing="1.195" stroke="#2b2a29" stroke-width="0.9" stroke-linejoin="miter" paint-order="stroke">23</text>
<text transform="translate(266.80,593.00) rotate(0) scale(1.0962,1)" x="-0.140" y="0" font-size="14.39" font-weight="bold" letter-spacing="0.509" stroke="#2b2a29" stroke-width="0.9" stroke-linejoin="miter" paint-order="stroke">COM</text>
<text transform="translate(156.60,330.40) rotate(0) scale(1.1455,1)" x="-0.588" y="0" font-size="17.73" font-weight="bold" letter-spacing="0.834" stroke="#2b2a29" stroke-width="1.2" stroke-linejoin="miter" paint-order="stroke">MDK-02</text>
<text transform="translate(28.90,53.00) rotate(0) scale(1.1107,1)" x="-0.587" y="0" font-size="18.46" font-weight="bold" stroke="#2b2a29" stroke-width="1.3" stroke-linejoin="miter" paint-order="stroke">N</text>
<text transform="translate(19.90,86.00) rotate(0) scale(0.9685,1)" x="-0.587" y="0" font-size="18.46" font-weight="bold" letter-spacing="1.110" stroke="#2b2a29" stroke-width="1.3" stroke-linejoin="miter" paint-order="stroke">L1</text>
<text transform="translate(518.90,24.60) rotate(0) scale(0.9125,1)" x="-1.008" y="0" font-size="27.03" font-weight="bold" letter-spacing="0.625" stroke="#2b2a29" stroke-width="0.2" stroke-linejoin="miter" paint-order="stroke">Connection Diagrams:</text>
<text transform="translate(323.60,129.50) rotate(0) scale(0.9357,1)" x="-0.048" y="0" font-size="15.77" font-weight="bold" letter-spacing="0.320" stroke="#2b2a29" stroke-width="0.25" stroke-linejoin="miter" paint-order="stroke">Tank is Full</text>
<text transform="translate(323.60,163.70) rotate(0) scale(0.9270,1)" x="-0.048" y="0" font-size="15.77" font-weight="bold" letter-spacing="0.367" stroke="#2b2a29" stroke-width="0.25" stroke-linejoin="miter" paint-order="stroke">Tank is Empty</text>
<text transform="translate(566.60,221.50) rotate(0) scale(1.1186,1)" x="-0.024" y="0" font-size="14.97" font-weight="bold" stroke="#2b2a29" stroke-width="1.0" stroke-linejoin="miter" paint-order="stroke">2A</text>
<text transform="translate(639.70,332.60) rotate(0) scale(1.1239,1)" x="-0.024" y="0" font-size="14.97" font-weight="bold" stroke="#2b2a29" stroke-width="1.0" stroke-linejoin="miter" paint-order="stroke">2A</text>
<text transform="translate(692.40,273.50) rotate(-90) scale(0.9288,1)" x="-0.534" y="0" font-size="16.06" font-weight="bold" letter-spacing="0.291" stroke="#2b2a29" stroke-width="0.25" stroke-linejoin="miter" paint-order="stroke">Contactor</text>
<text transform="translate(602.20,541.00) rotate(-90) scale(0.9581,1)" x="-0.902" y="0" font-size="15.33" font-weight="bold" letter-spacing="0.258" stroke="#2b2a29" stroke-width="0.25" stroke-linejoin="miter" paint-order="stroke">Floater</text>
<text transform="translate(875.00,650.70) rotate(-90) scale(0.9521,1)" x="0.109" y="0" font-size="16.06" font-weight="bold" stroke="#2b2a29" stroke-width="0.25" stroke-linejoin="miter" paint-order="stroke">Well</text>
<text transform="translate(788.30,122.40) rotate(90) scale(0.9911,1)" x="-0.132" y="0" font-size="15.41" font-weight="bold" letter-spacing="0.989" stroke="#2b2a29" stroke-width="1.0" stroke-linejoin="miter" paint-order="stroke">C.T.</text>
<text transform="translate(937.50,697.50) rotate(-90) scale(0.9484,1)" x="-1.194" y="0" font-size="20.06" font-weight="bold" stroke="#2b2a29" stroke-width="0.3" stroke-linejoin="miter" paint-order="stroke">Document Number: DK-020-2</text>
<text transform="translate(788.40,412.20) rotate(0) scale(0.9705,1)" x="-0.912" y="0" font-size="15.48" font-weight="bold" letter-spacing="0.429" stroke="#2b2a29" stroke-width="0.25" stroke-linejoin="miter" paint-order="stroke">Pump</text>
<text transform="translate(617.10,604.60) rotate(0) scale(0.9605,1)" x="-0.804" y="0" font-size="15.48" font-weight="bold" letter-spacing="0.261" stroke="#2b2a29" stroke-width="0.25" stroke-linejoin="miter" paint-order="stroke">Upper Electrode</text>
<text transform="translate(631.10,654.20) rotate(0) scale(0.9582,1)" x="-0.912" y="0" font-size="15.48" font-weight="bold" letter-spacing="0.269" stroke="#2b2a29" stroke-width="0.25" stroke-linejoin="miter" paint-order="stroke">Low Electrode</text>
<text transform="translate(607.80,676.00) rotate(0) scale(0.9609,1)" x="-0.912" y="0" font-size="15.48" font-weight="bold" letter-spacing="0.263" stroke="#2b2a29" stroke-width="0.25" stroke-linejoin="miter" paint-order="stroke">Bottom Electrode</text>
<text transform="translate(672.00,774.00) rotate(0) scale(1.1039,1)" x="-0.656" y="0" font-size="18.75" font-weight="bold" letter-spacing="0.652" stroke="#2b2a29" stroke-width="1.2" stroke-linejoin="miter" paint-order="stroke">MADE IN TURKEY</text>
<path d="M900.2,732.8 A18.95,18.95 0 0 0 900.2,770.7" fill="none" stroke="#2b2a29" stroke-width="7.6"/>
<path d="M938.2,732.8 A18.95,18.95 0 0 0 938.2,770.7" fill="none" stroke="#2b2a29" stroke-width="7.6"/>
<line x1="921" y1="751.9" x2="933.1" y2="751.9" stroke="#2b2a29" stroke-width="7.2" stroke-linecap="butt"/>
<rect x="0" y="128" width="1.5" height="3" fill="#2b2a29"/>
</svg>
</body></html>
